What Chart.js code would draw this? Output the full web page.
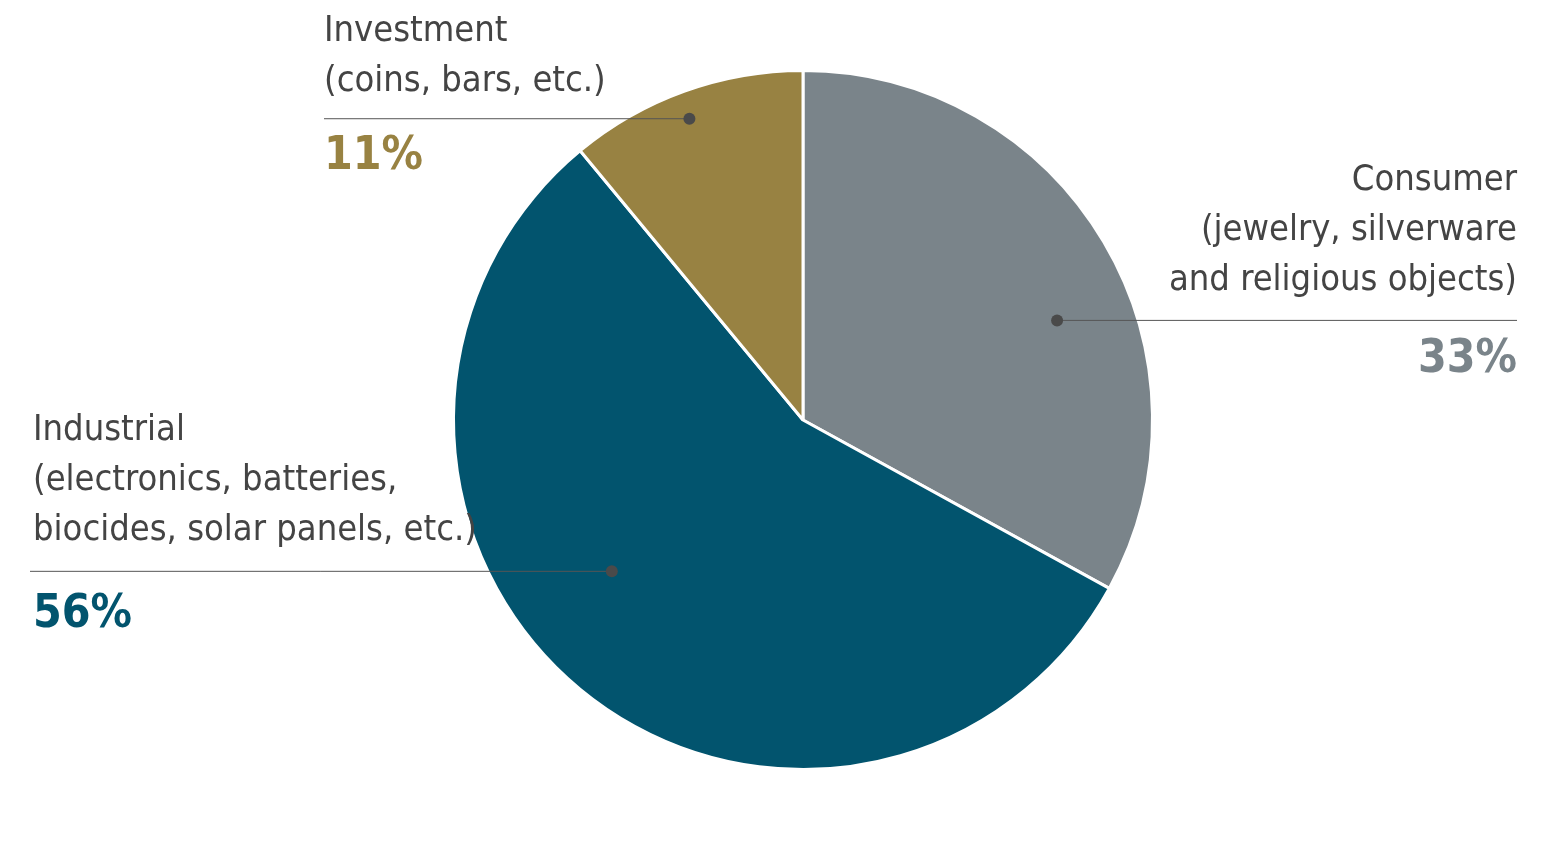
<!DOCTYPE html>
<html><head><meta charset="utf-8">
<script src="https://cdn.jsdelivr.net/npm/chart.js@4"></script>
<style>html,body{margin:0;padding:0;background:#fff}#w{width:1567px;height:847px}</style>
</head><body><div id="w"><canvas id="c"></canvas></div>
<script>
const categories = ["Consumer", "Industrial", "Investment"];
const subtitles = [["(jewelry, silverware","and religious objects)"],["(electronics, batteries,","biocides, solar panels, etc.)"],["(coins, bars, etc.)"]];
const values = [33, 56, 11];
const colors = ["#7a848a", "#02546e", "#988242"];
const FONT = "'Liberation Sans Narrow','DejaVu Sans Condensed',sans-serif";

const labelPlugin = {
  id: 'labels',
  afterDraw(chart) {
    const ctx = chart.ctx;
    const arc = chart.getDatasetMeta(0).data[0];
    const cx = arc.x, cy = arc.y, R = arc.outerRadius;
    // dot, line end, text anchor
    const specs = [
      {dot:[cx+0.727*R, cy-0.285*R], lineX:[cx+0.727*R, 1517], align:'right', tx:1517, lines:[categories[0], ...subtitles[0]], ty:181, py:360},
      {dot:[cx-0.547*R, cy+0.433*R], lineX:[30, cx-0.547*R], align:'left', tx:33, lines:[categories[1], ...subtitles[1]], ty:431, py:615},
      {dot:[cx-0.325*R, cy-0.862*R], lineX:[324, cx-0.325*R], align:'left', tx:324, lines:[categories[2], ...subtitles[2]], ty:32, py:157},
    ];
    ctx.save();
    specs.forEach((s,i)=>{
      ctx.strokeStyle='#555'; ctx.lineWidth=1;
      ctx.beginPath(); ctx.moveTo(s.lineX[0], s.dot[1]); ctx.lineTo(s.lineX[1], s.dot[1]); ctx.stroke();
      ctx.fillStyle='#4a4a4a'; ctx.beginPath(); ctx.arc(s.dot[0], s.dot[1], 6, 0, Math.PI*2); ctx.fill();
      ctx.textAlign=s.align; ctx.textBaseline='middle';
      ctx.font = "36px "+FONT; ctx.fillStyle='#444';
      s.lines.forEach((l,j)=>ctx.fillText(l, s.tx, s.ty + j*50));
      ctx.font = "bold 46px "+FONT; ctx.fillStyle=colors[i];
      ctx.fillText(values[i]+'%', s.tx, s.py);
    });
    ctx.restore();
  }
};

new Chart(document.getElementById('c'), {
  type: 'pie',
  data: { labels: categories, datasets: [{ data: values, backgroundColor: colors, borderColor: '#fff', borderWidth: 3 }] },
  options: {
    responsive: true, maintainAspectRatio: false, animation: false,
    layout: { padding: { top: 69, bottom: 76, left: 39, right: 0 } },
    plugins: { legend: { display: false }, tooltip: { enabled: false } }
  },
  plugins: [labelPlugin]
});
</script></body></html>
